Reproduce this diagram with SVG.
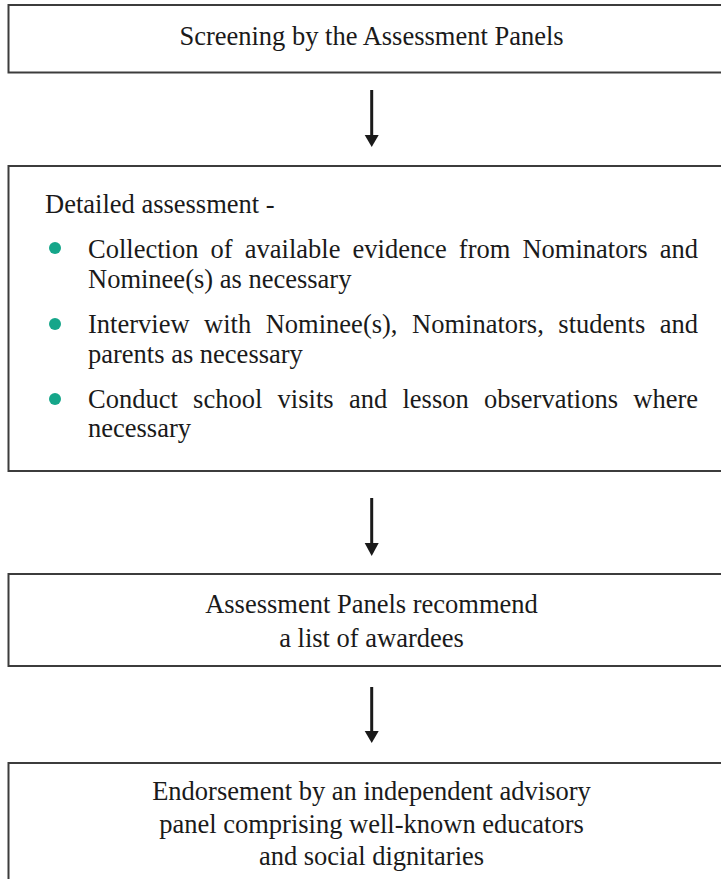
<svg xmlns="http://www.w3.org/2000/svg" width="721" height="879" viewBox="0 0 721 879">
<style>
.box{fill:#ffffff;stroke:#3c3c3c;stroke-width:2}
.t{font-family:"Liberation Serif","Times New Roman",serif;font-size:26.5px;fill:#1a1a1a}
.c{text-anchor:middle}
.bul{fill:#15a68a}
.shaft{stroke:#1a1a1a;stroke-width:3;fill:none}
.head{fill:#1a1a1a}
</style>
<rect x="0" y="0" width="721" height="879" fill="#ffffff"/>
<g id="node-screening">
<rect class="box" x="8.5" y="5" width="726" height="67.5"/>
<text class="t c" x="371.5" y="45">Screening by the Assessment Panels</text>
</g>
<g id="node-detailed">
<rect class="box" x="8.5" y="166" width="726" height="305"/>
<text class="t" x="45" y="213">Detailed assessment -</text>
<circle class="bul" cx="55" cy="248" r="6"/>
<text class="t" x="88" y="258" word-spacing="5.5" textLength="610" lengthAdjust="spacing">Collection of available evidence from Nominators and</text>
<text class="t" x="88" y="288">Nominee(s) as necessary</text>
<circle class="bul" cx="55" cy="324" r="6"/>
<text class="t" x="88" y="333" word-spacing="7.9" textLength="610" lengthAdjust="spacing">Interview with Nominee(s), Nominators, students and</text>
<text class="t" x="88" y="363">parents as necessary</text>
<circle class="bul" cx="55" cy="399" r="6"/>
<text class="t" x="88" y="408" word-spacing="8.7" textLength="610" lengthAdjust="spacing">Conduct school visits and lesson observations where</text>
<text class="t" x="88" y="437">necessary</text>
</g>
<g id="node-recommend">
<rect class="box" x="8.5" y="574" width="726" height="92"/>
<text class="t c" x="371.5" y="613">Assessment Panels recommend</text>
<text class="t c" x="371.5" y="647">a list of awardees</text>
</g>
<g id="node-endorsement">
<rect class="box" x="8.5" y="763" width="726" height="140"/>
<text class="t c" x="371.5" y="800">Endorsement by an independent advisory</text>
<text class="t c" x="371.5" y="833">panel comprising well-known educators</text>
<text class="t c" x="371.5" y="865">and social dignitaries</text>
</g>
<g id="connectors">
<line class="shaft" x1="371.7" y1="90" x2="371.7" y2="137"/>
<polygon class="head" points="364.7,135 378.7,135 371.7,147"/>
<line class="shaft" x1="371.7" y1="498" x2="371.7" y2="545"/>
<polygon class="head" points="364.7,543 378.7,543 371.7,556"/>
<line class="shaft" x1="371.7" y1="687" x2="371.7" y2="733"/>
<polygon class="head" points="364.7,731 378.7,731 371.7,743"/>
</g>
</svg>
